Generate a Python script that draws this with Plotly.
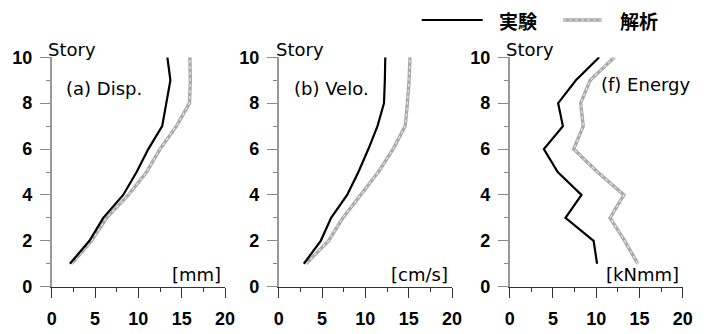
import plotly.graph_objects as go

# Storey levels
story = [1, 2, 3, 4, 5, 6, 7, 8, 9, 10]

# (a) Displacement [mm]
disp_exp = [2.1, 4.35, 5.95, 8.25, 9.8, 11.15, 12.75, 13.25, 13.7, 13.35]
disp_ana = [2.3, 4.6, 6.35, 8.85, 10.95, 12.5, 14.4, 15.9, 16.0, 15.95]

# (b) Velocity [cm/s]
velo_exp = [2.9, 4.85, 6.05, 7.9, 9.2, 10.35, 11.4, 12.15, 12.25, 12.3]
velo_ana = [3.15, 5.75, 7.4, 9.4, 11.5, 13.2, 14.6, 14.85, 15.05, 15.15]

# (f) Energy [kNmm]
ener_exp = [10.1, 9.7, 6.45, 8.3, 5.55, 3.95, 6.15, 5.6, 7.65, 10.35]
ener_ana = [14.8, 13.3, 11.6, 13.2, 10.15, 7.4, 8.5, 8.2, 9.3, 12.1]

x_ticks = [0, 5, 10, 15, 20]
y_ticks = [0, 2, 4, 6, 8, 10]

panel_titles = ["(a) Disp.", "(b) Velo.", "(f) Energy"]
units = ["[mm]", "[cm/s]", "[kNmm]"]
legend_names = ["実験", "解析"]

panels = [(disp_exp, disp_ana), (velo_exp, velo_ana), (ener_exp, ener_ana)]

W, H = 706, 334
x_domains = [(51.7 / W, 225.0 / W), (278.7 / W, 452.0 / W), (509.7 / W, 682.7 / W)]
y_domain = (1 - 286.7 / H, 1 - 57.3 / H)

fig = go.Figure()

for i, (exp, ana) in enumerate(panels):
    sfx = "" if i == 0 else str(i + 1)
    xa, ya = "x" + sfx, "y" + sfx
    # analysis: textured grey band (rim + light dotted core)
    fig.add_trace(go.Scatter(x=ana, y=story, mode="lines", xaxis=xa, yaxis=ya,
                             line=dict(color="#a8a8a8", width=3.4), showlegend=False))
    fig.add_trace(go.Scatter(x=ana, y=story, mode="lines", xaxis=xa, yaxis=ya,
                             line=dict(color="#e8e8e8", width=1.2, dash="dot"), showlegend=False))
    # experiment: solid black
    fig.add_trace(go.Scatter(x=exp, y=story, mode="lines", xaxis=xa, yaxis=ya,
                             line=dict(color="#000000", width=2.2), showlegend=False))

tick_font = dict(family="Liberation Sans, Arial, sans-serif", size=18, color="#000", weight="bold")
label_font = dict(family="DejaVu Sans, sans-serif", size=18, color="#000")

layout = dict(
    width=W, height=H,
    margin=dict(l=0, r=0, t=0, b=0),
    paper_bgcolor="white", plot_bgcolor="white",
    showlegend=False,
)

for i in range(3):
    sfx = "" if i == 0 else str(i + 1)
    layout["xaxis" + sfx] = dict(
        domain=list(x_domains[i]), range=[0, 20], anchor="y" + sfx, automargin=False,
        tickvals=x_ticks, ticks="outside", ticklen=10, tickwidth=1, tickcolor="#333",
        showline=True, linecolor="#333", linewidth=1, showgrid=False, zeroline=False,
        tickfont=tick_font, ticklabelstandoff=6,
        minor=dict(dtick=2.5, ticks="outside", ticklen=4, tickcolor="#333", showgrid=False),
    )
    layout["yaxis" + sfx] = dict(
        domain=list(y_domain), range=[0, 10], anchor="x" + sfx, automargin=False,
        tickvals=y_ticks, ticks="outside", ticklen=10, tickwidth=1.2, tickcolor="#888",
        showline=True, linecolor="#999", linewidth=1.5, showgrid=False, zeroline=False,
        tickfont=tick_font, ticklabelstandoff=4,
        minor=dict(dtick=1, ticks="outside", ticklen=4, tickcolor="#888", showgrid=False),
    )

fig.update_layout(**layout)

annotations = []
story_x = [45.7, 273.5, 504.0]
for i in range(3):
    xd = x_domains[i]
    # "Story" axis caption
    annotations.append(dict(text="Story", xref="paper", yref="paper",
                            x=story_x[i] / W, y=1 - 50 / H, xanchor="left", yanchor="middle",
                            showarrow=False, font=label_font))
    # unit label in lower-right corner
    annotations.append(dict(text=units[i], xref="paper", yref="paper",
                            x=xd[1] - 2 / W, y=1 - 274 / H, xanchor="right", yanchor="middle",
                            showarrow=False, font=label_font))

title_pos = [(64, 88), (291.5, 88), (599, 85)]
for i, t in enumerate(panel_titles):
    annotations.append(dict(text=t, xref="paper", yref="paper",
                            x=title_pos[i][0] / W, y=1 - title_pos[i][1] / H,
                            xanchor="left", yanchor="middle", showarrow=False, font=label_font))

# legend in the top band
cjk_font = dict(family="Noto Sans CJK JP", size=19, color="#000", weight="bold")
annotations.append(dict(text=legend_names[0], xref="paper", yref="paper", x=497 / W, y=1 - 20 / H,
                        xanchor="left", yanchor="middle", showarrow=False, font=cjk_font))
annotations.append(dict(text=legend_names[1], xref="paper", yref="paper", x=618 / W, y=1 - 20 / H,
                        xanchor="left", yanchor="middle", showarrow=False, font=cjk_font))
shapes = [
    dict(type="line", xref="paper", yref="paper", x0=421.7 / W, x1=482.7 / W,
         y0=1 - 20 / H, y1=1 - 20 / H, line=dict(color="#000", width=2.2)),
    dict(type="line", xref="paper", yref="paper", x0=563 / W, x1=601.7 / W,
         y0=1 - 20 / H, y1=1 - 20 / H, line=dict(color="#a8a8a8", width=3.4)),
    dict(type="line", xref="paper", yref="paper", x0=563 / W, x1=601.7 / W,
         y0=1 - 20 / H, y1=1 - 20 / H, line=dict(color="#e8e8e8", width=1.2, dash="dot")),
]
fig.update_layout(annotations=annotations, shapes=shapes)

fig.write_html("out.html")
